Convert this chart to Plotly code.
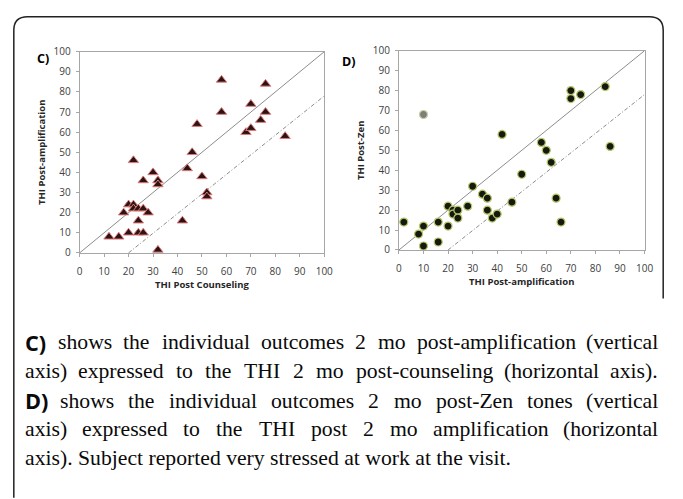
import plotly.graph_objects as go

W, H = 683, 499

# ---- data ----
c_x = [12, 16, 20, 24, 26, 32, 24, 18, 20, 22, 22, 24, 26, 28, 22, 26, 30, 32, 32, 42,
       44, 46, 48, 50, 52, 52, 58, 58, 68, 70, 70, 74, 76, 76, 84]
c_y = [8, 8, 10, 10, 10, 1.5, 16, 20, 24, 24, 22, 22, 22, 20, 46, 36, 40, 36, 34, 16,
       42, 50, 64, 38, 30, 28, 86, 70, 60, 62, 74, 66, 84, 70, 58]

d_x = [2, 8, 10, 10, 16, 16, 20, 20, 22, 22, 24, 24, 28, 30, 34, 36, 36, 38, 40, 42,
       46, 50, 58, 60, 62, 64, 66, 70, 70, 74, 84, 86]
d_y = [14, 8, 12, 2, 14, 4, 12, 22, 20, 18, 20, 16, 22, 32, 28, 26, 20, 16, 18, 58,
       24, 38, 54, 50, 44, 26, 14, 80, 76, 78, 82, 52]
d_out_x = [10]
d_out_y = [68]

identity_x = [0, 100]
identity_y = [0, 100]
offset_x = [20, 100]
offset_y = [0, 78]

tick_vals = list(range(0, 101, 10))

caption_lines = [
    ('C)', 'shows the individual outcomes 2 mo post-amplification (vertical'),
    ('', 'axis) expressed to the THI 2 mo post-counseling (horizontal axis).'),
    ('D)', 'shows the individual outcomes 2 mo post-Zen tones (vertical'),
    ('', 'axis) expressed to the THI post 2 mo amplification (horizontal'),
    ('', 'axis). Subject reported very stressed at work at the visit.'),
]
justified = [True, True, True, True, False]

# ---- figure ----
fig = go.Figure()

def px_x(p):
    return p / W

def px_y(p):
    return 1 - p / H

line_col = '#8c8c8c'
dashdot = '4px,2px,1px,2px'

for xa, ya in (('x', 'y'), ('x2', 'y2')):
    fig.add_trace(go.Scatter(x=identity_x, y=identity_y, mode='lines',
                             line=dict(color=line_col, width=1), xaxis=xa, yaxis=ya,
                             hoverinfo='skip'))
    fig.add_trace(go.Scatter(x=offset_x, y=offset_y, mode='lines',
                             line=dict(color=line_col, width=1, dash=dashdot),
                             xaxis=xa, yaxis=ya, hoverinfo='skip'))

fig.add_trace(go.Scatter(x=c_x, y=c_y, mode='markers',
                         marker=dict(symbol='triangle-up', size=9, color='#2a1414',
                                     line=dict(color='#e27a7a', width=1)),
                         xaxis='x', yaxis='y'))
fig.add_trace(go.Scatter(x=d_x, y=d_y, mode='markers',
                         marker=dict(symbol='circle', size=8, color='#151a10',
                                     line=dict(color='#b8c86a', width=1.2)),
                         xaxis='x2', yaxis='y2'))
fig.add_trace(go.Scatter(x=d_out_x, y=d_out_y, mode='markers',
                         marker=dict(symbol='circle', size=8, color='#7d7f78',
                                     line=dict(color='#c8d0a8', width=1.2)),
                         xaxis='x2', yaxis='y2'))

tick_font = dict(family='Open Sans', size=10, color='#404040')
title_font = dict(family='Open Sans', size=9.5, color='#262626')

def axis(domain, anchor, title, standoff, label_pad):
    return dict(domain=domain, anchor=anchor, range=[0, 100], tickvals=tick_vals,
                showgrid=False, zeroline=False, showline=True, linecolor='#a6a6a6',
                linewidth=1, mirror=True, ticks='outside', ticklen=3, tickcolor='#a6a6a6',
                tickfont=tick_font, ticklabelstandoff=label_pad,
                title=dict(text='<b>' + title + '</b>', font=title_font, standoff=standoff))

fig.update_layout(
    width=W, height=H,
    margin=dict(l=0, r=0, t=0, b=0),
    paper_bgcolor='white', plot_bgcolor='white',
    showlegend=False,
    xaxis=axis([px_x(78), px_x(327)], 'y', 'THI Post Counseling', 4, 6),
    yaxis=axis([px_y(253), px_y(46)], 'x', 'THI Post-amplification', 6, 3),
    xaxis2=axis([px_x(403), px_x(653)], 'y2', 'THI Post-amplification', 4, 6),
    yaxis2=axis([px_y(250), px_y(45)], 'x2', 'THI Post-Zen', 6, 3),
)

# Panel labels
fig.add_annotation(text='<b>C)</b>', x=px_x(33), y=px_y(53), xref='paper', yref='paper',
                   xanchor='left', yanchor='middle', showarrow=False,
                   font=dict(family='Open Sans', size=12.5, color='#000000'))
fig.add_annotation(text='<b>D)</b>', x=px_x(343), y=px_y(56), xref='paper', yref='paper',
                   xanchor='left', yanchor='middle', showarrow=False,
                   font=dict(family='Open Sans', size=12.5, color='#000000'))

# Caption (justified lines: words placed individually)
TIMES = {' ': 250, 'a': 444, 'b': 500, 'c': 444, 'd': 500, 'e': 444, 'f': 333, 'g': 500,
         'h': 500, 'i': 278, 'j': 278, 'k': 500, 'l': 278, 'm': 778, 'n': 500, 'o': 500,
         'p': 500, 'q': 500, 'r': 333, 's': 389, 't': 278, 'u': 500, 'v': 500, 'w': 722,
         'x': 500, 'y': 500, 'z': 444, 'A': 722, 'C': 667, 'D': 722, 'H': 722, 'I': 333,
         'S': 556, 'T': 611, 'Z': 611, '(': 333, ')': 333, '-': 333, '.': 250, ',': 250}
CAP_SIZE = 21.7
CAP_FONT = dict(family='Liberation Serif', size=CAP_SIZE, color='#0a0a0a')
LEFT, RIGHT = 22, 667
line_centers = [345, 375, 405, 434, 464]
LEAD_FMT = '<span style="font-family:\'Open Sans\'"><b>{}</b></span>'

def wwidth(w):
    return sum(TIMES.get(ch, 500) for ch in w) / 1000 * CAP_SIZE

for (lead, body), just, yc in zip(caption_lines, justified, line_centers):
    if not just:
        txt = (LEAD_FMT.format(lead) + ' ' if lead else '') + body
        fig.add_annotation(text=txt, x=px_x(LEFT), y=px_y(yc), xref='paper', yref='paper',
                           xanchor='left', yanchor='middle', showarrow=False,
                           borderpad=0, borderwidth=0, font=CAP_FONT)
        continue
    items = []
    if lead:
        items.append((LEAD_FMT.format(lead), 0.98 * CAP_SIZE))
    items += [(w, wwidth(w)) for w in body.split(' ')]
    total = sum(wd for _, wd in items)
    gap = (RIGHT - LEFT - total) / (len(items) - 1)
    xpos = LEFT
    n = len(items)
    for i, (txt, wd) in enumerate(items):
        if i == 0:
            xa, xv = 'left', xpos
        elif i == n - 1:
            xa, xv = 'right', RIGHT
        else:
            xa, xv = 'center', xpos + wd / 2
        fig.add_annotation(text=txt, x=px_x(xv), y=px_y(yc), xref='paper', yref='paper',
                           xanchor=xa, yanchor='middle', showarrow=False,
                           borderpad=0, borderwidth=0, font=CAP_FONT)
        xpos += wd + gap

# Outer rounded border
r = 14
x0, y0, x1, yb, yr = 11, 10, 672, 505, 300
path = (f'M {px_x(x0)},{px_y(yb)} L {px_x(x0)},{px_y(y0 + r)} '
        f'Q {px_x(x0)},{px_y(y0)} {px_x(x0 + r)},{px_y(y0)} '
        f'L {px_x(x1 - r)},{px_y(y0)} '
        f'Q {px_x(x1)},{px_y(y0)} {px_x(x1)},{px_y(y0 + r)} '
        f'L {px_x(x1)},{px_y(yr)}')
fig.add_shape(type='path', path=path, xref='paper', yref='paper',
              line=dict(color='#222222', width=1.5))

fig.write_html('out.html', config={'displayModeBar': False},
               post_script="document.body.style.margin='0px';document.body.style.overflow='hidden';")
